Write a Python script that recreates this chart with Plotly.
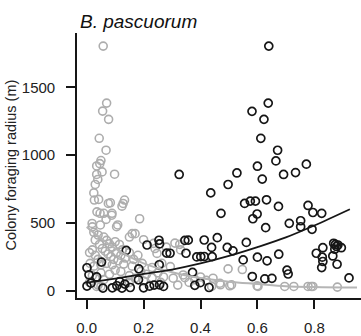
import plotly.graph_objects as go

# Black series (x, y)
black_x = [0.640, 0.638, 0.581, 0.623, 0.612, 0.671, 0.665, 0.600, 0.772, 0.325,
           0.528, 0.617, 0.692, 0.734, 0.497, 0.436, 0.472, 0.555, 0.575, 0.593,
           0.632, 0.674, 0.584, 0.599, 0.629, 0.778, 0.795, 0.826, 0.712, 0.752,
           0.752, 0.792, 0.293, 0.345, 0.357, 0.349, 0.413, 0.459, 0.439, 0.387,
           0.401, 0.413, 0.441, 0.494, 0.514, 0.561, 0.550, 0.600, 0.634, 0.675,
           0.372, 0.582, 0.626, 0.651, 0.704, 0.708, 0.380, 0.399, 0.430, 0.922,
           0.807, 0.830, 0.828, 0.830, 0.826, 0.868, 0.872, 0.883, 0.895, 0.865,
           0.880, 0.874, 0.878, 0.212, 0.254, 0.256, 0.281, 0.139, 0.052, 0.001,
           0.008, 0.183, 0.255, 0.001, 0.015, 0.057, 0.090, 0.106, 0.124, 0.153,
           0.116, 0.182, 0.200, 0.221, 0.237, 0.270, 0.256, 0.134, 0.035]
black_y = [1805, 1384, 1323, 1264, 1124, 1036, 957, 918, 933, 857,
           868, 823, 857, 871, 783, 721, 570, 643, 660, 660,
           670, 621, 530, 565, 464, 628, 576, 570, 496, 515,
           471, 452, 275, 370, 372, 275, 373, 390, 318, 248,
           250, 251, 250, 318, 293, 355, 226, 246, 219, 268,
           134, 103, 86, 90, 150, 122, 38, 58, 22, 93,
           275, 316, 246, 214, 169, 349, 305, 336, 316, 255,
           194, 340, 325, 336, 371, 344, 276, 296, 210, 168,
           116, 160, 190, 33, 54, 18, 20, 35, 18, 22,
           66, 79, 20, 32, 40, 30, 42, 47, 100]

# Gray series (x, y)
gray_x = [0.058, 0.070, 0.056, 0.077, 0.044, 0.068, 0.050, 0.035, 0.046, 0.054,
          0.098, 0.035, 0.039, 0.030, 0.025, 0.027, 0.042, 0.083, 0.133, 0.124,
          0.076, 0.128, 0.036, 0.060, 0.089, 0.047, 0.088, 0.186, 0.068, 0.105,
          0.019, 0.048, 0.109, 0.020,
          0.030, 0.025, 0.040, 0.060, 0.070, 0.080, 0.090, 0.100, 0.115, 0.125,
          0.150, 0.160, 0.170, 0.200, 0.045, 0.055, 0.065, 0.075, 0.085, 0.095,
          0.105, 0.120, 0.135, 0.150, 0.165, 0.180, 0.020, 0.030, 0.040, 0.010,
          0.012, 0.025, 0.050, 0.070, 0.090, 0.110, 0.130, 0.160, 0.195, 0.230,
          0.240, 0.235, 0.247, 0.264, 0.294, 0.310, 0.327, 0.330, 0.280,
          0.020, 0.030, 0.010, 0.040, 0.050, 0.060, 0.080, 0.100, 0.120, 0.150,
          0.170, 0.190, 0.210, 0.230, 0.250, 0.270, 0.304, 0.339, 0.345, 0.360,
          0.380, 0.400, 0.420, 0.444, 0.468, 0.470, 0.439, 0.503, 0.497, 0.547,
          0.509, 0.599, 0.602, 0.696, 0.728, 0.778, 0.789, 0.795, 0.881, 0.035,
          0.050, 0.150, 0.200, 0.260, 0.320]
gray_y = [1805, 1384, 1325, 1264, 1124, 1036, 960, 920, 937, 876,
          859, 857, 820, 783, 721, 668, 673, 648, 668, 623,
          643, 643, 581, 570, 570, 570, 556, 530, 525, 471,
          495, 484, 484, 470,
          373, 430, 410, 395, 370, 345, 320, 360, 340, 300,
          395, 420, 420, 375, 340, 310, 290, 270, 250, 230,
          280, 260, 240, 280, 230, 260, 300, 260, 230, 280,
          200, 180, 190, 200, 190, 220, 195, 180, 200, 170,
          310, 348, 274, 201, 176, 350, 341, 300, 320,
          110, 90, 60, 40, 130, 80, 120, 150, 140, 110,
          90, 140, 120, 95, 130, 100, 91, 115, 95, 60,
          80, 100, 75, 91, 54, 42, 30, 35, 160, 155,
          42, 35, 30, 30, 30, 30, 30, 30, 25, 30,
          30, 60, 70, 60, 40]

# Fitted curves
black_fit_x = [0.0, 0.1, 0.2, 0.3, 0.4, 0.5, 0.6, 0.7, 0.8, 0.925]
black_fit_y = [58, 88, 122, 155, 200, 255, 320, 392, 480, 600]
gray_fit_x = [0.0, 0.05, 0.1, 0.15, 0.2, 0.3, 0.4, 0.5, 0.6, 0.7, 0.8, 0.95]
gray_fit_y = [470, 385, 310, 250, 200, 135, 92, 65, 48, 32, 26, 22]

x_ticks = [0.0, 0.2, 0.4, 0.6, 0.8]
x_tick_labels = ["0.0", "0.2", "0.4", "0.6", "0.8"]
y_ticks = [0, 500, 1000, 1500]
y_tick_labels = ["0", "500", "1000", "1500"]

title_text = "B. pascuorum"
y_title = "Colony foraging radius (m)"

BLACK = "#161616"
GRAY = "#adadad"
FONT = "Liberation Sans, Arial, sans-serif"

fig = go.Figure()
fig.add_trace(go.Scatter(x=gray_x, y=gray_y, mode="markers",
                         marker=dict(symbol="circle-open", size=8, color=GRAY,
                                     line=dict(width=1.6, color=GRAY)),
                         showlegend=False, hoverinfo="skip"))
fig.add_trace(go.Scatter(x=black_x, y=black_y, mode="markers",
                         marker=dict(symbol="circle-open", size=8, color=BLACK,
                                     line=dict(width=1.7, color=BLACK)),
                         showlegend=False, hoverinfo="skip"))
fig.add_trace(go.Scatter(x=gray_fit_x, y=gray_fit_y, mode="lines",
                         line=dict(color="#b5b5b5", width=2, shape="spline", smoothing=1.0),
                         showlegend=False, hoverinfo="skip"))
fig.add_trace(go.Scatter(x=black_fit_x, y=black_fit_y, mode="lines",
                         line=dict(color=BLACK, width=1.8, shape="spline", smoothing=1.0),
                         showlegend=False, hoverinfo="skip"))

fig.update_layout(
    width=361, height=336,
    margin=dict(l=77, r=0, t=33, b=38, pad=0),
    paper_bgcolor="white", plot_bgcolor="white",
    font=dict(family=FONT, color="#111111", size=15),
    xaxis=dict(range=[-0.0341, 0.9641], tickvals=x_ticks, ticktext=x_tick_labels,
               showgrid=False, zeroline=False, showline=True, linecolor=BLACK,
               linewidth=1.6, ticks="outside", ticklen=9, tickwidth=1.6,
               tickcolor=BLACK, tickfont=dict(size=15, color="#222"),
               ticklabelstandoff=6, fixedrange=True),
    yaxis=dict(range=[-55.4, 1901.8], tickvals=y_ticks, ticktext=y_tick_labels,
               showgrid=False, zeroline=False, showline=True, linecolor=BLACK,
               linewidth=1.6, ticks="outside", ticklen=9, tickwidth=1.6,
               tickcolor=BLACK, tickfont=dict(size=15, color="#222"),
               ticklabelstandoff=8, fixedrange=True),
    annotations=[
        dict(text="<i>" + title_text + "</i>", xref="paper", yref="paper",
             x=(78 - 77) / 284, y=(298 - 21) / 265, xanchor="left", yanchor="middle",
             showarrow=False, font=dict(size=19, family=FONT, color="#111")),
        dict(text=y_title, xref="paper", yref="paper",
             x=(10 - 77) / 284, y=0.5, xanchor="center", yanchor="middle",
             textangle=-90, showarrow=False,
             font=dict(size=14.5, family=FONT, color="#222")),
    ],
)

fig.write_html("out.html")
